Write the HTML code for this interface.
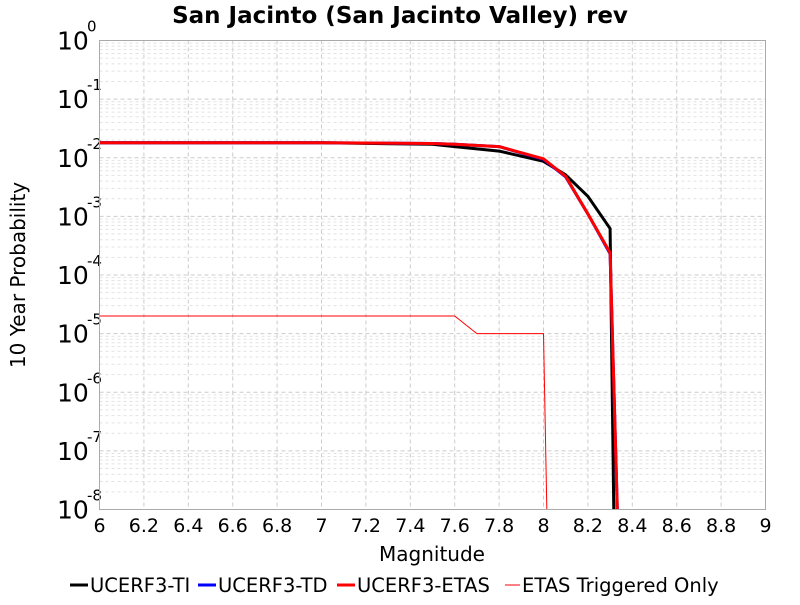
<!DOCTYPE html>
<html><head><meta charset="utf-8"><style>
body{margin:0;background:#fff;}
svg{font-family:"DejaVu Sans","Liberation Sans",sans-serif;}
</style></head><body>
<svg id="chart" width="800" height="600">
<text x="400" y="23" text-anchor="middle" font-size="23" font-weight="bold">San Jacinto (San Jacinto Valley) rev</text>
<g id="grid"></g>
<g id="ticks"></g>
<g id="series"></g>
<rect x="99.5" y="40.5" width="666" height="469" fill="none" stroke="#aaa"/>
<text x="432" y="561" text-anchor="middle" font-size="20">Magnitude</text>
<text transform="translate(25,275) rotate(-90)" text-anchor="middle" font-size="20">10 Year Probability</text>
<g font-size="19.5">
<g><line x1="70" y1="585" x2="88" y2="585" stroke="#000" stroke-width="3"/><text x="90" y="592">UCERF3-TI</text></g>
<g><line x1="198" y1="585" x2="216" y2="585" stroke="#00f" stroke-width="3"/><text x="218" y="592">UCERF3-TD</text></g>
<g><line x1="337" y1="585" x2="355" y2="585" stroke="#f00" stroke-width="3"/><text x="357" y="592">UCERF3-ETAS</text></g>
<g><line x1="505" y1="585" x2="520" y2="585" stroke="#f00" stroke-width="1"/><text x="522" y="592">ETAS Triggered Only</text></g>
</g>
</svg>
<script>
const xTicks=[6,6.2,6.4,6.6,6.8,7,7.2,7.4,7.6,7.8,8,8.2,8.4,8.6,8.8,9];
const xTickLabels=["6","6.2","6.4","6.6","6.8","7","7.2","7.4","7.6","7.8","8","8.2","8.4","8.6","8.8","9"];
const yExps=[0,-1,-2,-3,-4,-5,-6,-7,-8];
const magTI=[6,7,7.5,7.6,7.8,8.0,8.1,8.2,8.3,8.32];
const probTI=[1.8e-2,1.8e-2,1.7e-2,1.55e-2,1.3e-2,8.7e-3,5.1e-3,2.2e-3,6.2e-4,1e-9];
const magTD=[6,7,7.5,7.6,7.8,8.0,8.1,8.2,8.3,8.34];
const probTD=[1.8e-2,1.8e-2,1.75e-2,1.7e-2,1.55e-2,9.4e-3,4.7e-3,1.1e-3,2.3e-4,1e-9];
const magETAS=[6,7,7.5,7.6,7.8,8.0,8.1,8.2,8.3,8.34];
const probETAS=[1.8e-2,1.8e-2,1.75e-2,1.7e-2,1.55e-2,9.6e-3,4.8e-3,1.1e-3,2.4e-4,1e-9];
const magTrig=[6,7.6,7.7,8.0,8.02];
const probTrig=[2e-5,2e-5,1e-5,1e-5,1e-9];

const L=99.5,R=765.5,T=40.5,B=509.5,xmin=6,xmax=9,ymaxE=0,yminE=-8;
const NS="http://www.w3.org/2000/svg";
function xs(v){return L+(v-xmin)/(xmax-xmin)*(R-L);}
function ys(p){return T+(ymaxE-Math.log10(p))/(ymaxE-yminE)*(B-T);}
function mk(tag,attrs,parent){const e=document.createElementNS(NS,tag);for(const k in attrs)e.setAttribute(k,attrs[k]);parent.appendChild(e);return e;}
const grid=document.getElementById('grid'),ticks=document.getElementById('ticks'),series=document.getElementById('series');
for(let i=0;i<xTicks.length;i++){
 const x=xs(xTicks[i]);
 const g=mk('line',{x1:x,x2:x,y1:T,y2:B,stroke:'#ccc','stroke-dasharray':'4,3'},grid);
 
 
 const t=mk('text',{x:x,y:532,'text-anchor':'middle','font-size':'19'},ticks);
 t.textContent=xTickLabels[i];
 
 
}
for(let i=0;i<yExps.length;i++){
 const e=yExps[i];
 const y=ys(Math.pow(10,e));
 if(e>yminE){
  for(let m=2;m<=9;m++){
   const ym=ys(m*Math.pow(10,e-1));
   const g=mk('line',{x1:L,x2:R,y1:ym,y2:ym,stroke:'#e2e2e2','stroke-dasharray':'3,3'},grid);
   
   
  }
 }
 const g=mk('line',{x1:L,x2:R,y1:y,y2:y,stroke:'#ccc','stroke-dasharray':'4,3'},grid);
 
 
 const t=mk('text',{x:57,y:y+9,'font-size':'25'},ticks);
 t.textContent='10';
 
 
 const s=mk('text',{x:87,y:y-9,'font-size':'15'},ticks);
 s.textContent=String(e);
 
 
}
const clip=mk('clipPath',{id:'pc'},document.getElementById('chart'));
mk('rect',{x:L,y:T,width:R-L,height:B-T},clip);
function line(mags,probs,color,w,name){
 const pts=mags.map((m,i)=>xs(m)+','+ys(probs[i])).join(' ');
 const p=mk('polyline',{points:pts,fill:'none',stroke:color,'stroke-width':w,'clip-path':'url(#pc)','stroke-linejoin':'round'},series);
 
 
}
line(magTrig,probTrig,'#f00',1,'etas-triggered-line');
line(magTI,probTI,'#000',3,'ucerf3-ti-line');
line(magTD,probTD,'#00f',3,'ucerf3-td-line');
line(magETAS,probETAS,'#f00',3,'ucerf3-etas-line');
</script>
</body></html>
